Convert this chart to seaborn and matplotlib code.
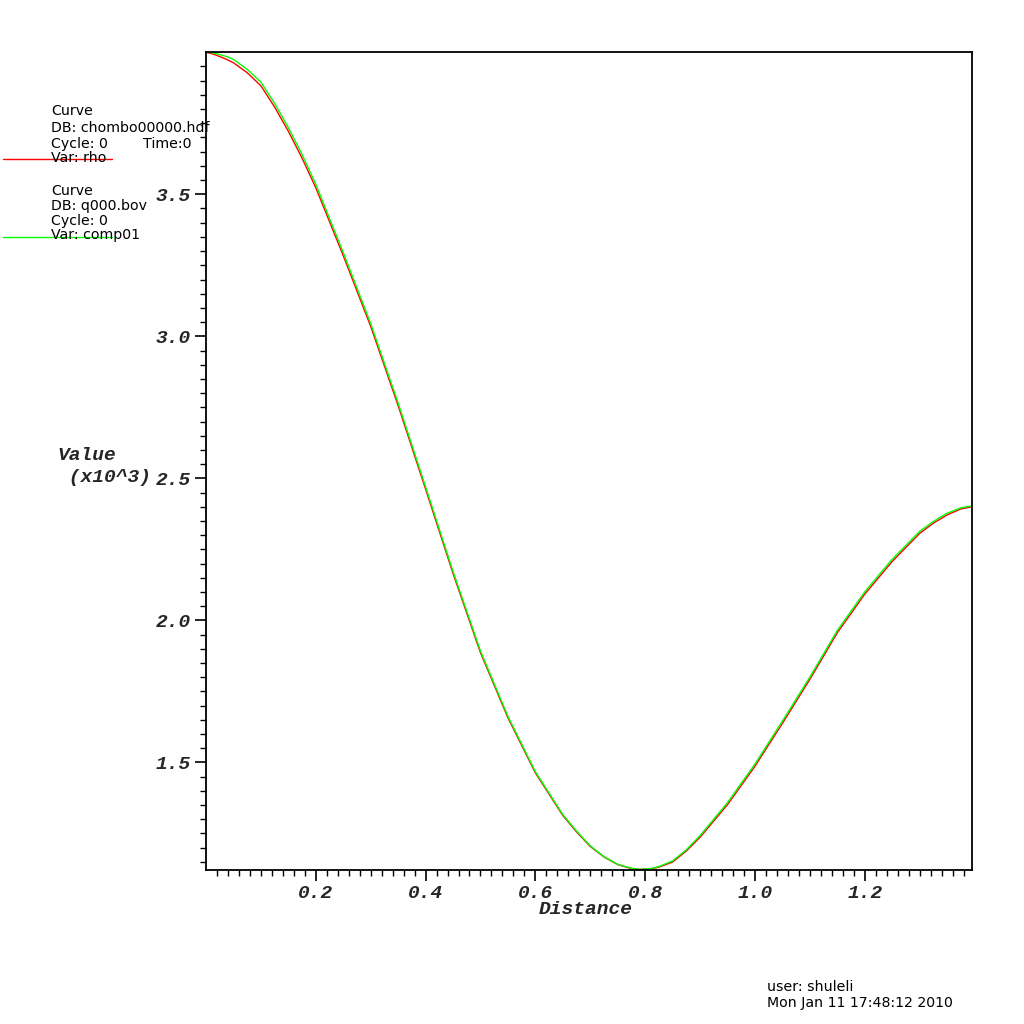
import numpy as np
import matplotlib
matplotlib.use("Agg")
import matplotlib.pyplot as plt
import seaborn as sns

# distance samples
distance = [0.0, 0.0125, 0.025, 0.0375, 0.05, 0.075, 0.10, 0.125, 0.15, 0.175, 0.20,
            0.25, 0.30, 0.35, 0.40, 0.45, 0.50, 0.55, 0.60, 0.65, 0.675, 0.70, 0.725,
            0.75, 0.775, 0.79, 0.81, 0.825, 0.85, 0.875, 0.90, 0.95, 1.00, 1.05, 1.10,
            1.15, 1.20, 1.25, 1.30, 1.325, 1.35, 1.375, 1.396]

# comp01 (green) values, x10^3
comp01 = [4.000, 3.998, 3.992, 3.985, 3.975, 3.940, 3.895, 3.820, 3.735, 3.640, 3.535,
          3.295, 3.045, 2.765, 2.470, 2.172, 1.892, 1.662, 1.467, 1.316, 1.258, 1.206, 1.168,
          1.141, 1.127, 1.123, 1.126, 1.133, 1.153, 1.192, 1.242, 1.358, 1.494, 1.645, 1.800,
          1.964, 2.100, 2.215, 2.313, 2.348, 2.377, 2.396, 2.403]

# rho (red) values, x10^3
rho = [4.000, 3.994, 3.985, 3.975, 3.963, 3.928, 3.882, 3.807, 3.722, 3.627, 3.523,
       3.284, 3.035, 2.756, 2.462, 2.165, 1.886, 1.657, 1.463, 1.313, 1.255, 1.204, 1.167,
       1.140, 1.126, 1.123, 1.125, 1.131, 1.149, 1.188, 1.236, 1.351, 1.486, 1.637, 1.792,
       1.956, 2.092, 2.207, 2.306, 2.342, 2.371, 2.392, 2.400]

x_major = [0.2, 0.4, 0.6, 0.8, 1.0, 1.2]
x_labels = ["0.2", "0.4", "0.6", "0.8", "1.0", "1.2"]
y_major = [1.5, 2.0, 2.5, 3.0, 3.5]
y_labels = ["1.5", "2.0", "2.5", "3.0", "3.5"]

sns.set_style("white")
plt.rcParams['font.family'] = ['DejaVu Sans']

fig = plt.figure(figsize=(10.24, 10.24), dpi=100)
ax = fig.add_axes([0.2012, 0.1504, 0.7483, 0.7991])

sns.lineplot(x=distance, y=rho, ax=ax, color="#ff0000", linewidth=1.0, sort=False)
sns.lineplot(x=distance, y=comp01, ax=ax, color="#00ff00", linewidth=1.0, sort=False)

ax.set_xlim(0.0, 1.396)
ax.set_ylim(1.121, 4.002)

mono = dict(family="Liberation Mono", weight="bold", style="italic", size=14)

ax.set_xticks(x_major)
ax.set_xticklabels(x_labels, fontdict=mono)
ax.set_xticks(np.arange(0.02, 1.39, 0.02), minor=True)
ax.set_yticks(y_major)
ax.set_yticklabels(y_labels, fontdict=mono)
ax.set_yticks(np.arange(1.15, 4.0, 0.05), minor=True)

ax.tick_params(axis="both", which="major", direction="out", length=8, width=1.2,
               color="black", bottom=True, left=True)
ax.tick_params(axis="x", which="major", pad=2.5)
ax.tick_params(axis="y", which="major", pad=3)
ax.tick_params(axis="both", which="minor", direction="out", length=4, width=1.0,
               color="black", bottom=True, left=True)
ax.tick_params(top=False, right=False)

for s in ax.spines.values():
    s.set_color("black")
    s.set_linewidth(1.3)

ax.set_xlabel("")
ax.set_ylabel("")
fig.text(586 / 1024, 1 - 910 / 1024, "Distance", ha="center", va="center", **mono)
fig.text(57 / 1024, 1 - 455 / 1024, "Value", ha="left", va="center", **mono)
fig.text(57 / 1024, 1 - 478 / 1024, " (x10^3)", ha="left", va="center", **mono)

# legend blocks
leg = dict(family="DejaVu Sans", size=10.2, color="black", va="center", ha="left")
block1 = [("Curve", 111), ("DB: chombo00000.hdf", 128), ("Cycle: 0", 144), ("Var: rho", 158)]
block2 = [("Curve", 191), ("DB: q000.bov", 206), ("Cycle: 0", 221), ("Var: comp01", 235)]
for txt, py in block1 + block2:
    fig.text(51 / 1024, 1 - py / 1024, txt, **leg)
fig.text(143 / 1024, 1 - 144 / 1024, "Time:0", **leg)
fig.add_artist(plt.Line2D([3 / 1024, 112 / 1024], [1 - 159 / 1024] * 2, color="#ff0000", linewidth=1))
fig.add_artist(plt.Line2D([3 / 1024, 112 / 1024], [1 - 237 / 1024] * 2, color="#00ff00", linewidth=1))

fig.text(767 / 1024, 1 - 987 / 1024, "user: shuleli", **leg)
fig.text(767 / 1024, 1 - 1003 / 1024, "Mon Jan 11 17:48:12 2010", **leg)

fig.savefig("out.png", dpi=100, facecolor="white")
